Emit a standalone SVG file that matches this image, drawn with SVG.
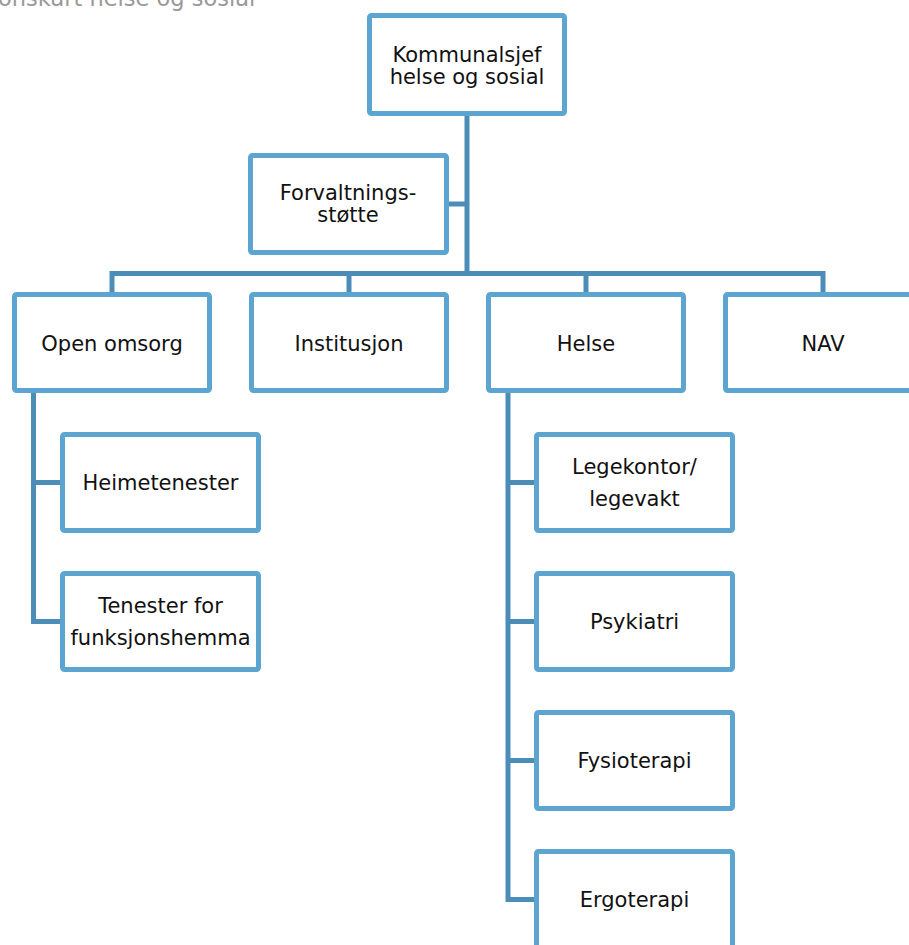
<svg xmlns="http://www.w3.org/2000/svg" width="909" height="945" viewBox="0 0 909 945">
<style>
.box{fill:#fff;stroke:#5ba5d0;stroke-width:5}
.c{fill:none;stroke:#4b8db6;stroke-width:5;stroke-linejoin:miter;stroke-linecap:butt}
text{font-family:"DejaVu Sans","Verdana",sans-serif;font-size:21px;fill:#111;text-anchor:middle}
.title{fill:#999;font-size:22.5px;text-anchor:start}
</style>
<rect width="909" height="945" fill="#fff"/>
<text class="title" x="-2" y="6">onskart helse og sosial</text>
<g id="connectors">
<path class="c" d="M467,114 V276"/>
<path class="c" d="M447,204 H467"/>
<path class="c" d="M112,294 V273.5 H823 V294"/>
<path class="c" d="M349,273.5 V294"/>
<path class="c" d="M586,273.5 V294"/>
<path class="c" d="M33.5,391 V621.5 H62"/>
<path class="c" d="M33.5,482.5 H62"/>
<path class="c" d="M508,391 V899.5 H536"/>
<path class="c" d="M508,482.5 H536"/>
<path class="c" d="M508,621.5 H536"/>
<path class="c" d="M508,760.5 H536"/>
</g>
<g id="kommunalsjef"><rect class="box" x="369.5" y="15.5" width="195" height="98" rx="2"/><text x="467" y="62">Kommunalsjef</text><text x="467" y="84">helse og sosial</text></g>
<g id="forvaltning"><rect class="box" x="250.5" y="155.5" width="196" height="97" rx="2"/><text x="348" y="200">Forvaltnings-</text><text x="348" y="222">støtte</text></g>
<g id="open-omsorg"><rect class="box" x="14.5" y="294.5" width="195" height="96" rx="2"/><text x="112" y="351">Open omsorg</text></g>
<g id="institusjon"><rect class="box" x="251.5" y="294.5" width="195" height="96" rx="2"/><text x="349" y="351">Institusjon</text></g>
<g id="helse"><rect class="box" x="488.5" y="294.5" width="195" height="96" rx="2"/><text x="586" y="351">Helse</text></g>
<g id="nav"><rect class="box" x="725.5" y="294.5" width="195" height="96" rx="2"/><text x="823" y="351">NAV</text></g>
<g id="heimetenester"><rect class="box" x="62.5" y="434.5" width="196" height="96" rx="2"/><text x="160.5" y="490">Heimetenester</text></g>
<g id="tenester"><rect class="box" x="62.5" y="573.5" width="196" height="96" rx="2"/><text x="160.5" y="613">Tenester for</text><text x="160.5" y="645">funksjonshemma</text></g>
<g id="legekontor"><rect class="box" x="536.5" y="434.5" width="196" height="96" rx="2"/><text x="634.5" y="474">Legekontor/</text><text x="634.5" y="506">legevakt</text></g>
<g id="psykiatri"><rect class="box" x="536.5" y="573.5" width="196" height="96" rx="2"/><text x="634.5" y="629">Psykiatri</text></g>
<g id="fysioterapi"><rect class="box" x="536.5" y="712.5" width="196" height="96" rx="2"/><text x="634.5" y="768">Fysioterapi</text></g>
<g id="ergoterapi"><rect class="box" x="536.5" y="851.5" width="196" height="96" rx="2"/><text x="634.5" y="907">Ergoterapi</text></g>
</svg>
